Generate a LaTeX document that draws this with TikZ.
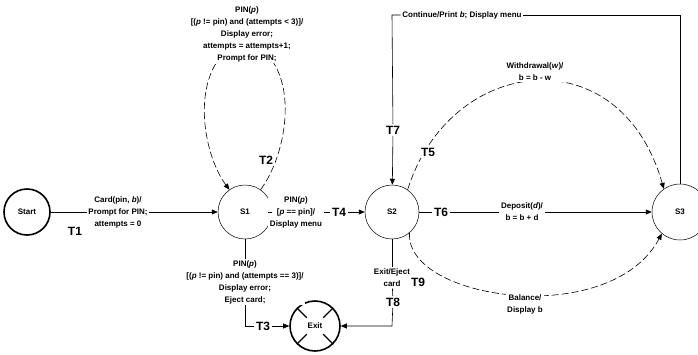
\documentclass[tikz,border=0pt]{standalone}
\usepackage{fontspec}
\setmainfont{Liberation Sans}
\usetikzlibrary{arrows.meta,calc}
\begin{document}
\begin{tikzpicture}[x=1pt,y=-1pt,
  every node/.style={font=\fontsize{8}{12}\selectfont\bfseries},
  lbl/.style={align=center,fill=white,inner sep=1.5pt},
  tl/.style={font=\fontsize{12}{14}\selectfont\bfseries,fill=white,inner sep=1.5pt},
  st/.style={circle,draw,line width=0.5pt,minimum size=54pt,inner sep=0pt},
  term/.style={circle,draw,line width=1.6pt,minimum size=46pt,inner sep=0pt},
  tr/.style={line width=0.6pt},
  arr/.style={tr,-{Triangle[length=6pt,width=5pt]}},
  crv/.style={line width=0.6pt,dash pattern=on 7pt off 3pt}]
\useasboundingbox (0,0) rectangle (698,354);
% states
\node[term] (start) at (27,212) {Start};
\node[st] (s1) at (245,212) {S1};
\node[st] (s2) at (392,212) {S2};
\node[st,minimum size=56pt] (s3) at (680,212) {S3};
\node[term,minimum size=50pt] (exit) at (315,326) {Exit};
\foreach \a in {45,135,225,315}
  \draw[line width=1.2pt] (exit.\a) -- ($(exit.center)!0.45!(exit.\a)$);
% T1
\node[lbl] (l1) at (118,212) {Card(pin, \textit{b})/\\Prompt for PIN;\\attempts = 0};
\node[tl] (t1) at (75,231) {T1};
\draw[tr] (start) -- (l1);
\draw[arr] (l1) -- (s1);
% T2 loop
\draw[arr,crv] (s1.55) .. controls (290,150) and (302,60) .. (245,40)
  .. controls (188,60) and (200,150) .. (s1.125);
\node[lbl] (l2) at (247,34) {PIN(\textit{p})\\{[}(\textit{p} != pin) and (attempts < 3)]/\\Display error;\\attempts = attempts+1;\\Prompt for PIN;};
\node[tl] (t2) at (266,160) {T2};
% T4
\node[lbl] (l4) at (296,212) {PIN(\textit{p})\\{[}\textit{p} == pin]/\\Display menu};
\node[tl] (t4) at (339,212) {T4};
\draw[tr] (s1) -- (l4);
\draw[tr] (l4) -- (t4);
\draw[arr] (t4) -- (s2);
% T3
\node[lbl] (l3) at (245,282) {PIN(\textit{p})\\{[}(\textit{p} != pin) and (attempts == 3)]/\\Display error;\\Eject card;};
\node[tl] (t3) at (263,326) {T3};
\draw[tr] (s1) -- (l3);
\draw[tr] (l3) |- (t3);
\draw[arr] (t3) -- (exit);
% T8
\node[lbl] (l8) at (392,278) {Exit/Eject\\card};
\node[tl] (t8) at (393,302) {T8};
\coordinate (c8) at (392,326);
\draw[tr] (s2) -- (l8);
\draw[tr] (l8) -- (t8);
\draw[arr] (t8) -- (c8) -- (exit);
% T7
\coordinate (c7a) at (680,15);
\coordinate (c7b) at (392,15);
\node[lbl] (l7) at (462,15) {Continue/Print \textit{b}; Display menu};
\node[tl] (t7) at (393,130) {T7};
\draw[tr] (s3) -- (c7a) -- (l7);
\draw[tr] (l7) -- (c7b) -- (t7);
\draw[arr] (t7) -- (s2);
% T5
\draw[arr,crv] (s2.55) .. controls (450,55) and (620,35) .. (s3.125);
\node[lbl] (l5) at (535,72) {Withdrawal(\textit{w})/\\b = b - w};
\node[tl] (t5) at (428,152) {T5};
% T6
\node[tl] (t6) at (441,212) {T6};
\node[lbl] (l6) at (522,212) {Deposit(\textit{d})/\\b = b + d};
\draw[tr] (s2) -- (t6);
\draw[tr] (t6) -- (l6);
\draw[arr] (l6) -- (s3);
% T9
\draw[arr,crv] (s2.-50) .. controls (405,300) and (610,330) .. (s3.-130);
\node[lbl] (l9) at (525,304) {Balance/\\Display b};
\node[tl] (t9) at (418,282) {T9};
\end{tikzpicture}
\end{document}
